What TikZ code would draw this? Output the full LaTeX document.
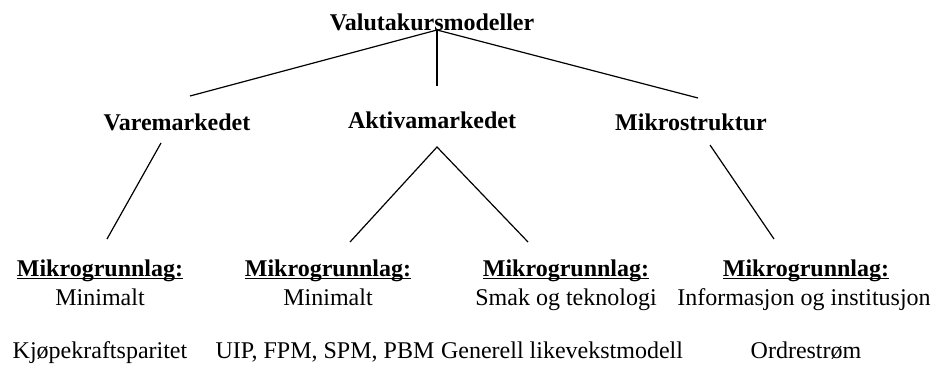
\documentclass[tikz,border=0pt]{standalone}
\usepackage{fontspec}
\setmainfont{Liberation Serif}
\newcommand{\grunnlag}{\underline{\smash{Mikrogrunnlag:}}}
\begin{document}
\begin{tikzpicture}[x=0.5pt,y=-0.5pt,
  txt/.style={anchor=base,inner sep=0pt,font=\fontsize{12}{14}\selectfont},
  head/.style={anchor=base,inner sep=0pt,font=\fontsize{12}{14}\selectfont\bfseries},
  tree/.style={line width=0.6pt}]
 \useasboundingbox (0,0) rectangle (936,364);
 \coordinate (R) at (437,30);
 \coordinate (Rl) at (190,96);
 \coordinate (Rm) at (437,86);
 \coordinate (Rr) at (698,98);
 \coordinate (V) at (161,143);
 \coordinate (Vb) at (107,239);
 \coordinate (A) at (437,147);
 \coordinate (Al) at (350,242);
 \coordinate (Ar) at (528,242);
 \coordinate (M) at (710,145);
 \coordinate (Mb) at (774,239);
 \draw[tree] (Rl)--(R)--(Rr);
 \draw[tree] (R)--(Rm);
 \draw[tree] (V)--(Vb);
 \draw[tree] (Al)--(A)--(Ar);
 \draw[tree] (M)--(Mb);
 \node[head] (valuta) at (432,30) {Valutakursmodeller};
 \node[head] (vare) at (177,130) {Varemarkedet};
 \node[head] (aktiva) at (432,128) {Aktivamarkedet};
 \node[head] (mikro) at (691,130) {Mikrostruktur};
 \node[head] (mg1) at (100,276) {\grunnlag};
 \node[head] (mg2) at (328,276) {\grunnlag};
 \node[head] (mg3) at (566,276) {\grunnlag};
 \node[head] (mg4) at (806,276) {\grunnlag};
 \node[txt] (min1) at (100,305) {Minimalt};
 \node[txt] (min2) at (328,305) {Minimalt};
 \node[txt] (smak) at (566,305) {Smak og teknologi};
 \node[txt] (info) at (804,305) {Informasjon og institusjon};
 \node[txt] (ppp) at (100,358) {Kjøpekraftsparitet};
 \node[txt] (uip) at (325,358) {UIP, FPM, SPM, PBM};
 \node[txt] (gen) at (562,358) {Generell likevekstmodell};
 \node[txt] (ordre) at (806,358) {Ordrestrøm};
\end{tikzpicture}
\end{document}
